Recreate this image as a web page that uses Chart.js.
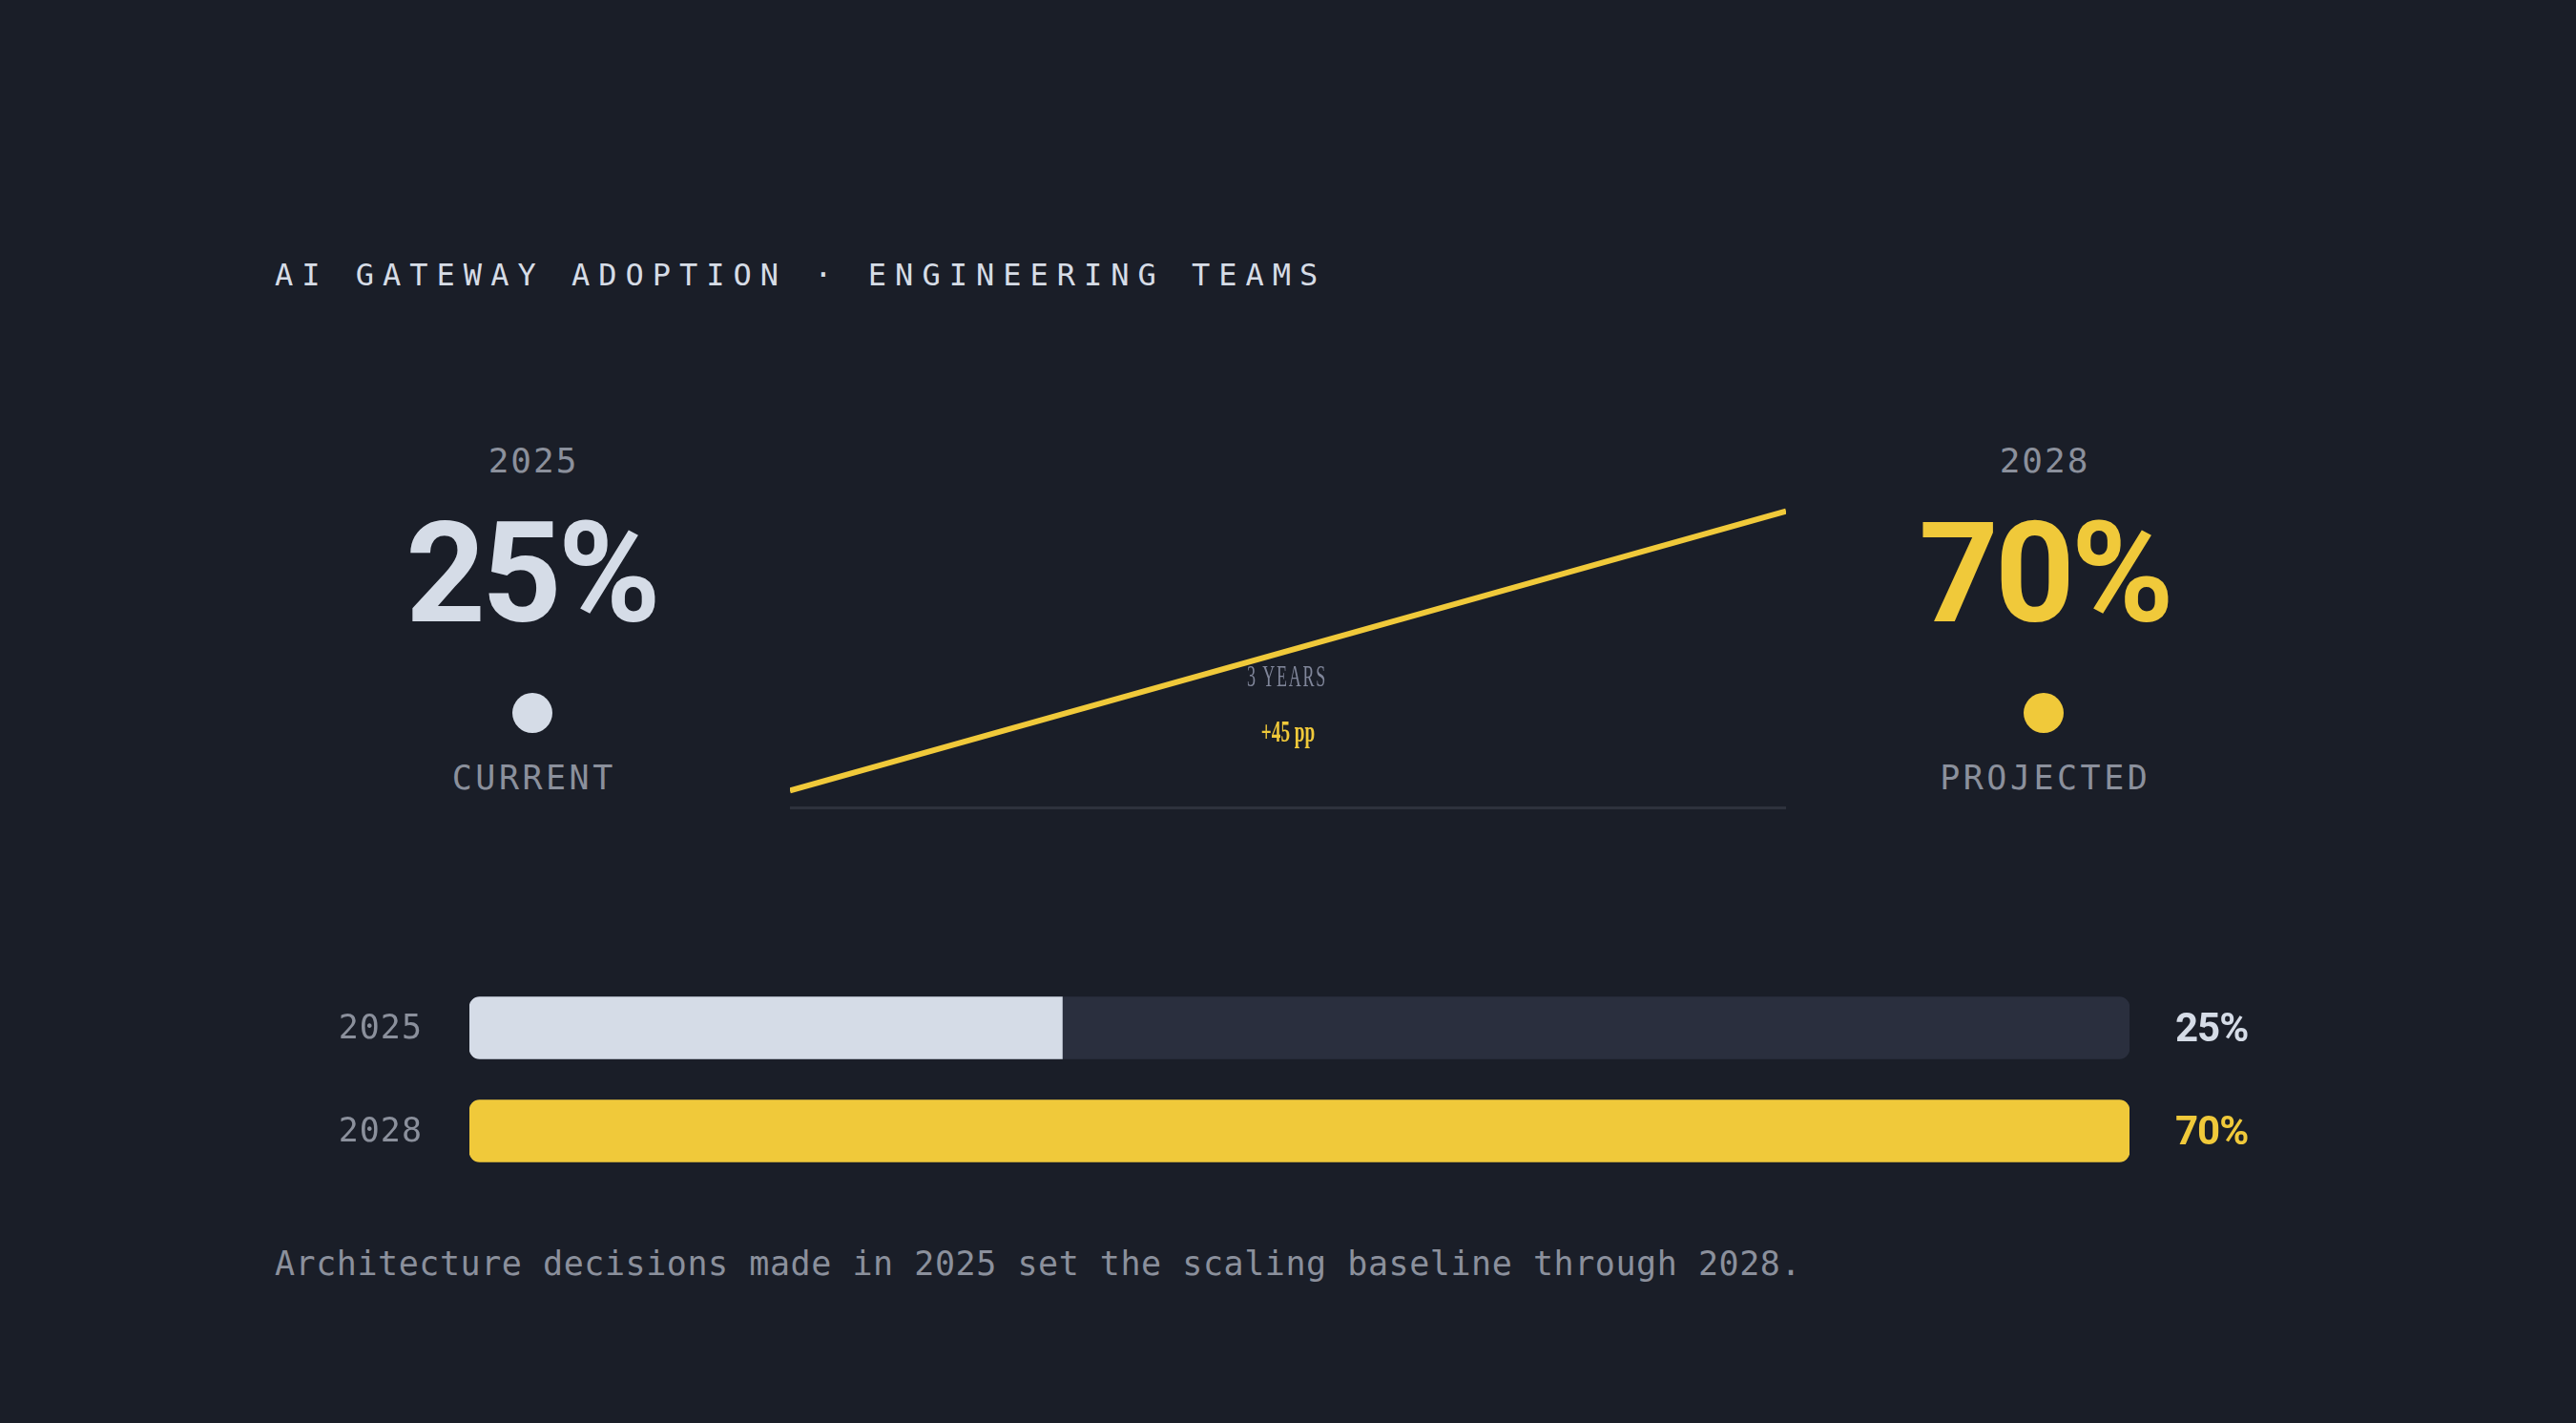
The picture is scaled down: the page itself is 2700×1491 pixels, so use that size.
<!DOCTYPE html>
<html>
<head>
<meta charset="utf-8">
<script src="https://cdn.jsdelivr.net/npm/chart.js@4.4.1/dist/chart.umd.min.js"></script>
<style>
  html, body { margin: 0; padding: 0; background: #1a1e28; }
  #page { position: relative; width: 2700px; height: 1491px; overflow: hidden; background: #1a1e28; }
  .t { position: absolute; white-space: nowrap; line-height: 1; margin: 0; }
  .mono { font-family: "DejaVu Sans Mono", monospace; }
  .c { width: 600px; text-align: center; box-sizing: border-box; }
  .big { font-family: Roboto, sans-serif; font-weight: 700; font-size: 146px; letter-spacing: -4px; }
  .dot { position: absolute; width: 42px; height: 42px; border-radius: 50%; }
  canvas { position: absolute; }
</style>
</head>
<body>
<div id="page">
  <div class="t mono" id="title" style="left:288px;top:272px;font-size:32px;letter-spacing:9px;color:#d6dce6;"></div>

  <div class="t mono c" id="y0" style="left:258px;top:465px;font-size:36px;letter-spacing:2px;padding-left:2px;color:#8b909c;"></div>
  <div class="t big c" id="v0" style="left:257px;top:529px;color:#d5dce7;"></div>
  <div class="dot" style="left:537px;top:726px;background:#d5dce7;"></div>
  <div class="t mono c" id="s0" style="left:258px;top:798px;font-size:35px;letter-spacing:3.5px;padding-left:3.5px;color:#8b909c;"></div>

  <div class="t mono c" id="y1" style="left:1842px;top:465px;font-size:36px;letter-spacing:2px;padding-left:2px;color:#8b909c;"></div>
  <div class="t big c" id="v1" style="left:1843px;top:529px;color:#f0c93a;"></div>
  <div class="dot" style="left:2121px;top:726px;background:#f0c93a;"></div>
  <div class="t mono c" id="s1" style="left:1842px;top:798px;font-size:35px;letter-spacing:3.5px;padding-left:3.5px;color:#8b909c;"></div>

  <canvas id="trend" width="1044" height="358" style="left:828px;top:490px;"></canvas>
  <div class="t" id="span" style="left:1349px;top:693px;font-family:'Liberation Serif',serif;font-size:31px;letter-spacing:3px;color:#80869a;transform:translateX(-50%) scaleX(0.58);"></div>
  <div class="t" id="delta" style="left:1350px;top:751px;font-family:'Liberation Serif',serif;font-weight:700;font-size:31px;color:#f0c93a;transform:translateX(-50%) scaleX(0.62);"></div>

  <canvas id="bars" width="2150" height="216" style="left:300px;top:1023px;"></canvas>

  <div class="t mono" id="note" style="left:288px;top:1307px;font-size:35px;letter-spacing:0.55px;color:#8b909c;"></div>
</div>

<script>
// chart data
const years = [2025, 2028];
const adoption = [25, 70];
const stages = ["CURRENT", "PROJECTED"];
const title = "AI GATEWAY ADOPTION · ENGINEERING TEAMS";
const note = "Architecture decisions made in 2025 set the scaling baseline through 2028.";

const LIGHT = "#d5dce7";
const YELLOW = "#f0c93a";
const GRAY = "#8b909c";
const TRACK = "#2a2f3e";

document.getElementById("title").textContent = title;
document.getElementById("note").textContent = note;
for (let i = 0; i < years.length; i++) {
  document.getElementById("y" + i).textContent = years[i];
  document.getElementById("v" + i).textContent = adoption[i] + "%";
  document.getElementById("s" + i).textContent = stages[i];
}
document.getElementById("span").textContent = (years[1] - years[0]) + " YEARS";
document.getElementById("delta").textContent = "+" + (adoption[1] - adoption[0]) + " pp";

// thin rule under the trend line
const baselinePlugin = {
  id: "baseline",
  beforeDatasetsDraw(chart) {
    const { ctx, chartArea } = chart;
    ctx.save();
    ctx.fillStyle = "#2e323d";
    ctx.fillRect(chartArea.left, chartArea.bottom - 3, chartArea.right - chartArea.left, 3);
    ctx.restore();
  },
};

new Chart(document.getElementById("trend"), {
  type: "line",
  data: {
    datasets: [
      {
        data: years.map((y, i) => ({ x: y, y: adoption[i] })),
        borderColor: YELLOW,
        borderWidth: 6,
        pointRadius: 0,
        tension: 0,
        fill: false,
      },
    ],
  },
  options: {
    responsive: false,
    animation: false,
    layout: { padding: 0 },
    plugins: { legend: { display: false }, tooltip: { enabled: false } },
    scales: {
      x: { type: "linear", min: years[0], max: years[1], display: false },
      y: { min: 22, max: 77, display: false },
    },
  },
  plugins: [baselinePlugin],
});

// labels on both sides of the bars
const barLabelPlugin = {
  id: "barLabels",
  afterDatasetsDraw(chart) {
    const { ctx, chartArea } = chart;
    const yScale = chart.scales.y;
    ctx.save();
    ctx.textBaseline = "alphabetic";
    years.forEach((yr, i) => {
      const py = yScale.getPixelForValue(i);
      ctx.font = '35px "DejaVu Sans Mono"';
      ctx.letterSpacing = "1px";
      ctx.fillStyle = GRAY;
      ctx.textAlign = "right";
      ctx.fillText(String(yr), chartArea.left - 49, py + 11);
      ctx.font = "bold 42px Roboto";
      ctx.letterSpacing = "-1px";
      ctx.fillStyle = i === 0 ? LIGHT : YELLOW;
      ctx.textAlign = "left";
      ctx.fillText(adoption[i] + "%", chartArea.right + 48, py + 14);
    });
    ctx.restore();
  },
};

const scaleMax = Math.max(...adoption);

new Chart(document.getElementById("bars"), {
  type: "bar",
  data: {
    labels: years.map(String),
    datasets: [
      {
        data: adoption,
        backgroundColor: [LIGHT, YELLOW],
        barThickness: 65,
        grouped: false,
        order: 1,
        borderSkipped: false,
        borderRadius: (ctx) => {
          const full = ctx.raw >= scaleMax ? 11 : 0;
          return { topLeft: 11, bottomLeft: 11, topRight: full, bottomRight: full };
        },
      },
      {
        data: years.map(() => scaleMax),
        backgroundColor: TRACK,
        barThickness: 65,
        grouped: false,
        order: 2,
        borderSkipped: false,
        borderRadius: 11,
      },
    ],
  },
  options: {
    indexAxis: "y",
    responsive: false,
    animation: false,
    layout: { padding: { left: 192, right: 218, top: 0, bottom: 0 } },
    plugins: { legend: { display: false }, tooltip: { enabled: false } },
    scales: {
      x: { min: 0, max: scaleMax, display: false },
      y: { display: false },
    },
  },
  plugins: [barLabelPlugin],
});
</script>
</body>
</html>
